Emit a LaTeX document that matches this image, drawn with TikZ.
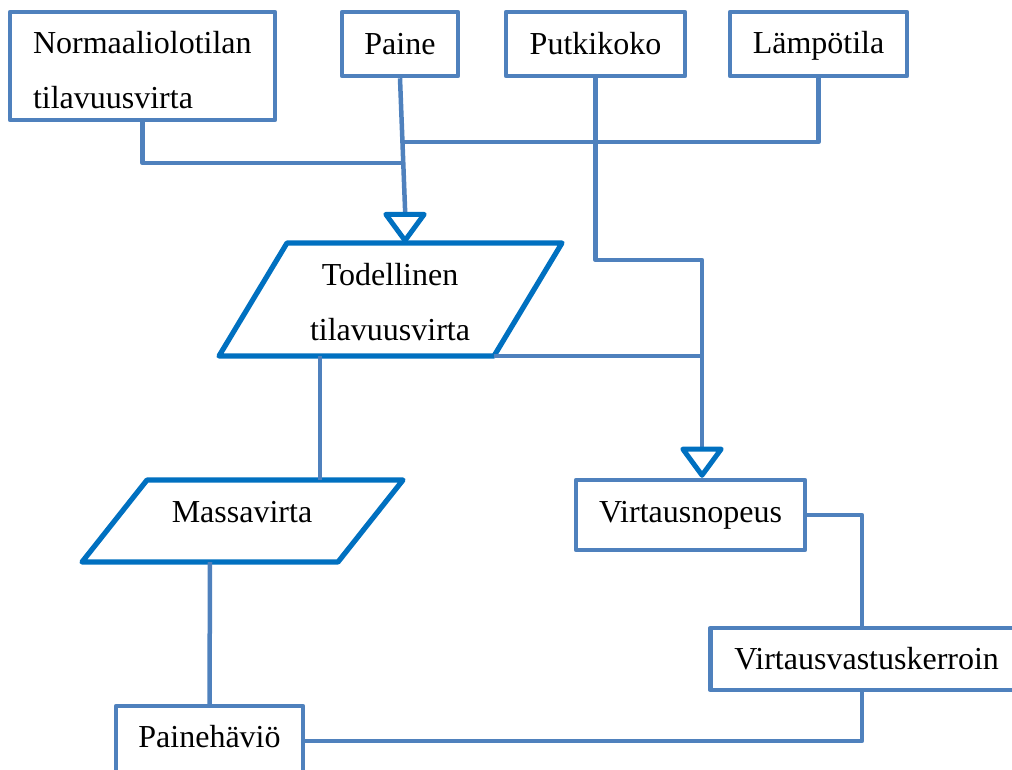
\documentclass[tikz,border=0pt]{standalone}
\usepackage{fontspec}
\setmainfont{Liberation Serif}
\usetikzlibrary{arrows.meta}
\definecolor{boxblue}{HTML}{4F81BD}
\definecolor{parablue}{HTML}{0070C0}

\begin{document}
\begin{tikzpicture}[x=1pt,y=-1pt,
  every node/.style={font=\fontsize{32}{55}\selectfont},
  box/.style={draw=boxblue, line width=4.5pt, line join=round, inner sep=0pt},
  conn/.style={draw=boxblue, line width=4.5pt, line join=round},
  para/.style={draw=parablue, line width=5.2pt, line join=round},
  opentip/.style={-{Triangle[open, round, width=47pt, length=33pt, line width=5pt, color=parablue]}}]
\useasboundingbox (0,0) rectangle (1012,769);
\node[box, minimum width=265, minimum height=108, text width=219, inner xsep=23, align=left] (normaali) at (142.5,66) {\rule{0pt}{30pt}Normaaliolotilan\\tilavuusvirta};
\node[box, minimum width=116, minimum height=64] (paine) at (400,44) {Paine};
\node[box, minimum width=179, minimum height=64] (putki) at (595.5,44) {Putkikoko};
\node[box, minimum width=177, minimum height=64, text depth=3pt] (lampo) at (818.5,44) {Lämpötila};
\draw[para] (287,243) -- (562,243) -- (494,356) coordinate (tod-br) -- (219,356) -- cycle;
\node[align=center] (todellinen) at (390,302) {Todellinen\\tilavuusvirta};
\draw[para] (147,480) -- (403,480) -- (338,562) -- (82,562) -- cycle;
\node (massavirta) at (242,512) {Massavirta};
\node[box, minimum width=229, minimum height=70] (nopeus) at (690.5,515) {Virtausnopeus};
\node[box, minimum height=62, inner xsep=24, anchor=west] (vastus) at (708,659) {Virtausvastuskerroin};
\node[box, minimum width=187, minimum height=70, text depth=10pt] (havio) at (209.5,741) {Painehäviö};
\coordinate (mergeA) at (403,163);
\coordinate (mergeB) at (402.5,142);
\coordinate (join1) at (405,208);
\coordinate (tod-in) at (405,243);
\coordinate (tod-out) at (320,356);
\coordinate (mas-in) at (320,480);
\coordinate (mas-out) at (210,562);
\coordinate (bend) at (702,260);
\draw[conn, opentip] (paine.south) -- (join1) -- (tod-in);
\draw[conn] (normaali.south) |- (mergeA);
\draw[conn] (lampo.south) |- (mergeB);
\draw[conn, opentip] (putki.south) |- (bend) -- (nopeus.north -| bend);
\draw[conn] (tod-br) -- (tod-br -| bend);
\draw[conn] (tod-out) -- (mas-in);
\draw[conn] (mas-out) -- (havio.north);
\draw[conn] (nopeus.east) -| (vastus.north -| 862,0);
\draw[conn] (havio.east) -| (vastus.south -| 862,0);
\end{tikzpicture}
\end{document}
